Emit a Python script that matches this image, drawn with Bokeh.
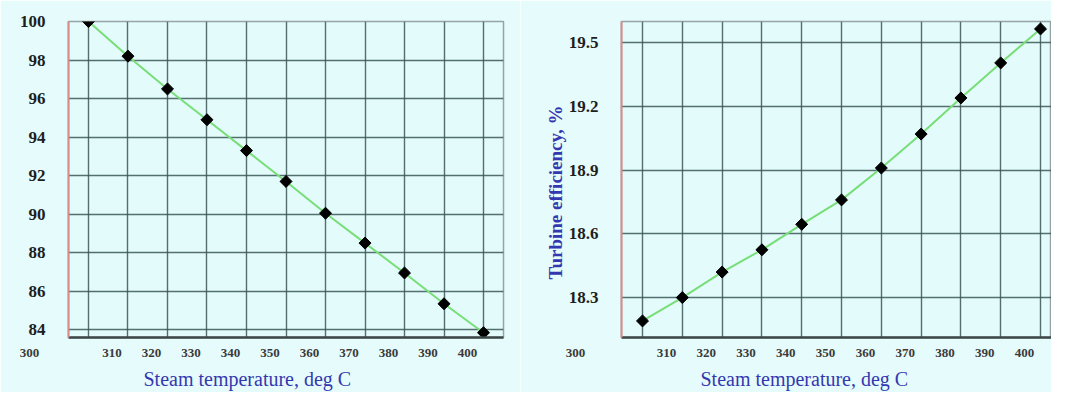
import math
from bokeh.plotting import figure
from bokeh.models import Range1d, LinearAxis, FixedTicker, Grid, Title
from bokeh.layouts import row
from bokeh.embed import file_html
from bokeh.resources import INLINE

# ---- data ----
temps = [300, 310, 320, 330, 340, 350, 360, 370, 380, 390, 400]
relative_values = [100, 98.2, 96.5, 94.9, 93.3, 91.7, 90.05, 88.5, 86.95, 85.35, 83.85]
turbine_eff = [18.19, 18.30, 18.42, 18.525, 18.645, 18.76, 18.91, 19.07, 19.24, 19.405, 19.565]
left_yticks = [84, 86, 88, 90, 92, 94, 96, 98, 100]
right_yticks = [18.3, 18.6, 18.9, 19.2, 19.5]
x_title = "Steam temperature, deg C"
right_y_title = "Turbine efficiency, %"

BG = "#e3fbfb"
PAGE = "#e6fbfb"
GRID = "#3a5656"
LINE = "#78de78"
TITLE_BLUE = "#3438b0"
SERIF = "Liberation Serif"
H = 392
NBSP = "\u00a0"


def make(width, xr, yr, yticks, borders, label_shift, first_pad, title_offset):
    p = figure(width=width, height=H, x_range=Range1d(*xr), y_range=Range1d(*yr),
               output_backend="svg", toolbar_location=None, tools="",
               background_fill_color=BG, border_fill_color=PAGE,
               min_border_left=borders[0], min_border_right=borders[1],
               min_border_top=borders[2], min_border_bottom=borders[3],
               x_axis_type=None)
    p.outline_line_color = "#98a4a4"
    p.outline_line_width = 1.5
    p.ygrid.ticker = FixedTicker(ticks=yticks)
    p.ygrid.grid_line_color = GRID
    p.ygrid.grid_line_width = 1.4
    p.ygrid.grid_line_alpha = 0.85
    ya = p.yaxis[0]
    ya.ticker = FixedTicker(ticks=yticks)
    ya.major_tick_line_color = None
    ya.minor_tick_line_color = None
    ya.major_tick_out = 0
    ya.major_tick_in = 0
    ya.minor_tick_out = 0
    ya.axis_line_color = "#d88c8c"
    ya.axis_line_width = 2
    ya.major_label_standoff = 23
    ya.major_label_text_font = SERIF
    ya.major_label_text_font_style = "bold"
    ya.major_label_text_font_size = "17px"
    ya.major_label_text_color = "#1e1e1e"
    # tick labels sit somewhat left of the grid lines; the first one ("300") far left
    lab_start = xr[0] + label_shift
    first_tick = math.ceil(lab_start)
    p.extra_x_ranges = {"lab": Range1d(lab_start, xr[1] + label_shift)}
    first_text = str(temps[0]) + NBSP * first_pad
    xa = LinearAxis(x_range_name="lab", ticker=FixedTicker(ticks=[first_tick] + temps[1:]),
                    major_label_overrides={first_tick: first_text, str(first_tick): first_text})
    xa.major_tick_line_color = None
    xa.minor_tick_line_color = None
    xa.major_tick_out = 0
    xa.major_tick_in = 0
    xa.minor_tick_out = 0
    xa.axis_label_standoff = 0
    xa.axis_line_color = "#3c4646"
    xa.axis_line_width = 2.5
    xa.major_label_standoff = 7
    xa.major_label_text_font = SERIF
    xa.major_label_text_font_style = "bold"
    xa.major_label_text_font_size = "13px"
    xa.major_label_text_color = "#3a3a3a"
    p.add_layout(xa, "below")
    t = Title(text=x_title, align="left", offset=title_offset, standoff=6,
              text_font=SERIF, text_font_style="normal", text_font_size="20px",
              text_color=TITLE_BLUE)
    p.add_layout(t, "below")
    g = Grid(dimension=0, ticker=FixedTicker(ticks=temps))
    g.grid_line_color = GRID
    g.grid_line_width = 1.4
    g.grid_line_alpha = 0.85
    p.add_layout(g)
    return p


# left chart
p1 = make(520, (294.94, 405.06), (83.6, 100.0), left_yticks, (68, 17, 19, 48), 4.05, 24, 75)
p1.line(temps, relative_values, line_color=LINE, line_width=2)
p1.scatter(temps, relative_values, marker="square", angle=math.pi / 4, size=8.5, color="black")

# right chart
p2 = make(531, (294.72, 402.76), (18.112, 19.6), right_yticks, (101, 0, 21, 48), 4.0, 29, 79)
p2.line(temps, turbine_eff, line_color=LINE, line_width=2)
p2.scatter(temps, turbine_eff, marker="square", angle=math.pi / 4, size=8.5, color="black")
p2.add_layout(Title(text=right_y_title, align="left", offset=58, standoff=0,
                    text_font=SERIF, text_font_style="bold", text_font_size="19px",
                    text_color=TITLE_BLUE), "left")

layout = row(p1, p2)
open("out.html", "w").write(file_html(layout, INLINE))
